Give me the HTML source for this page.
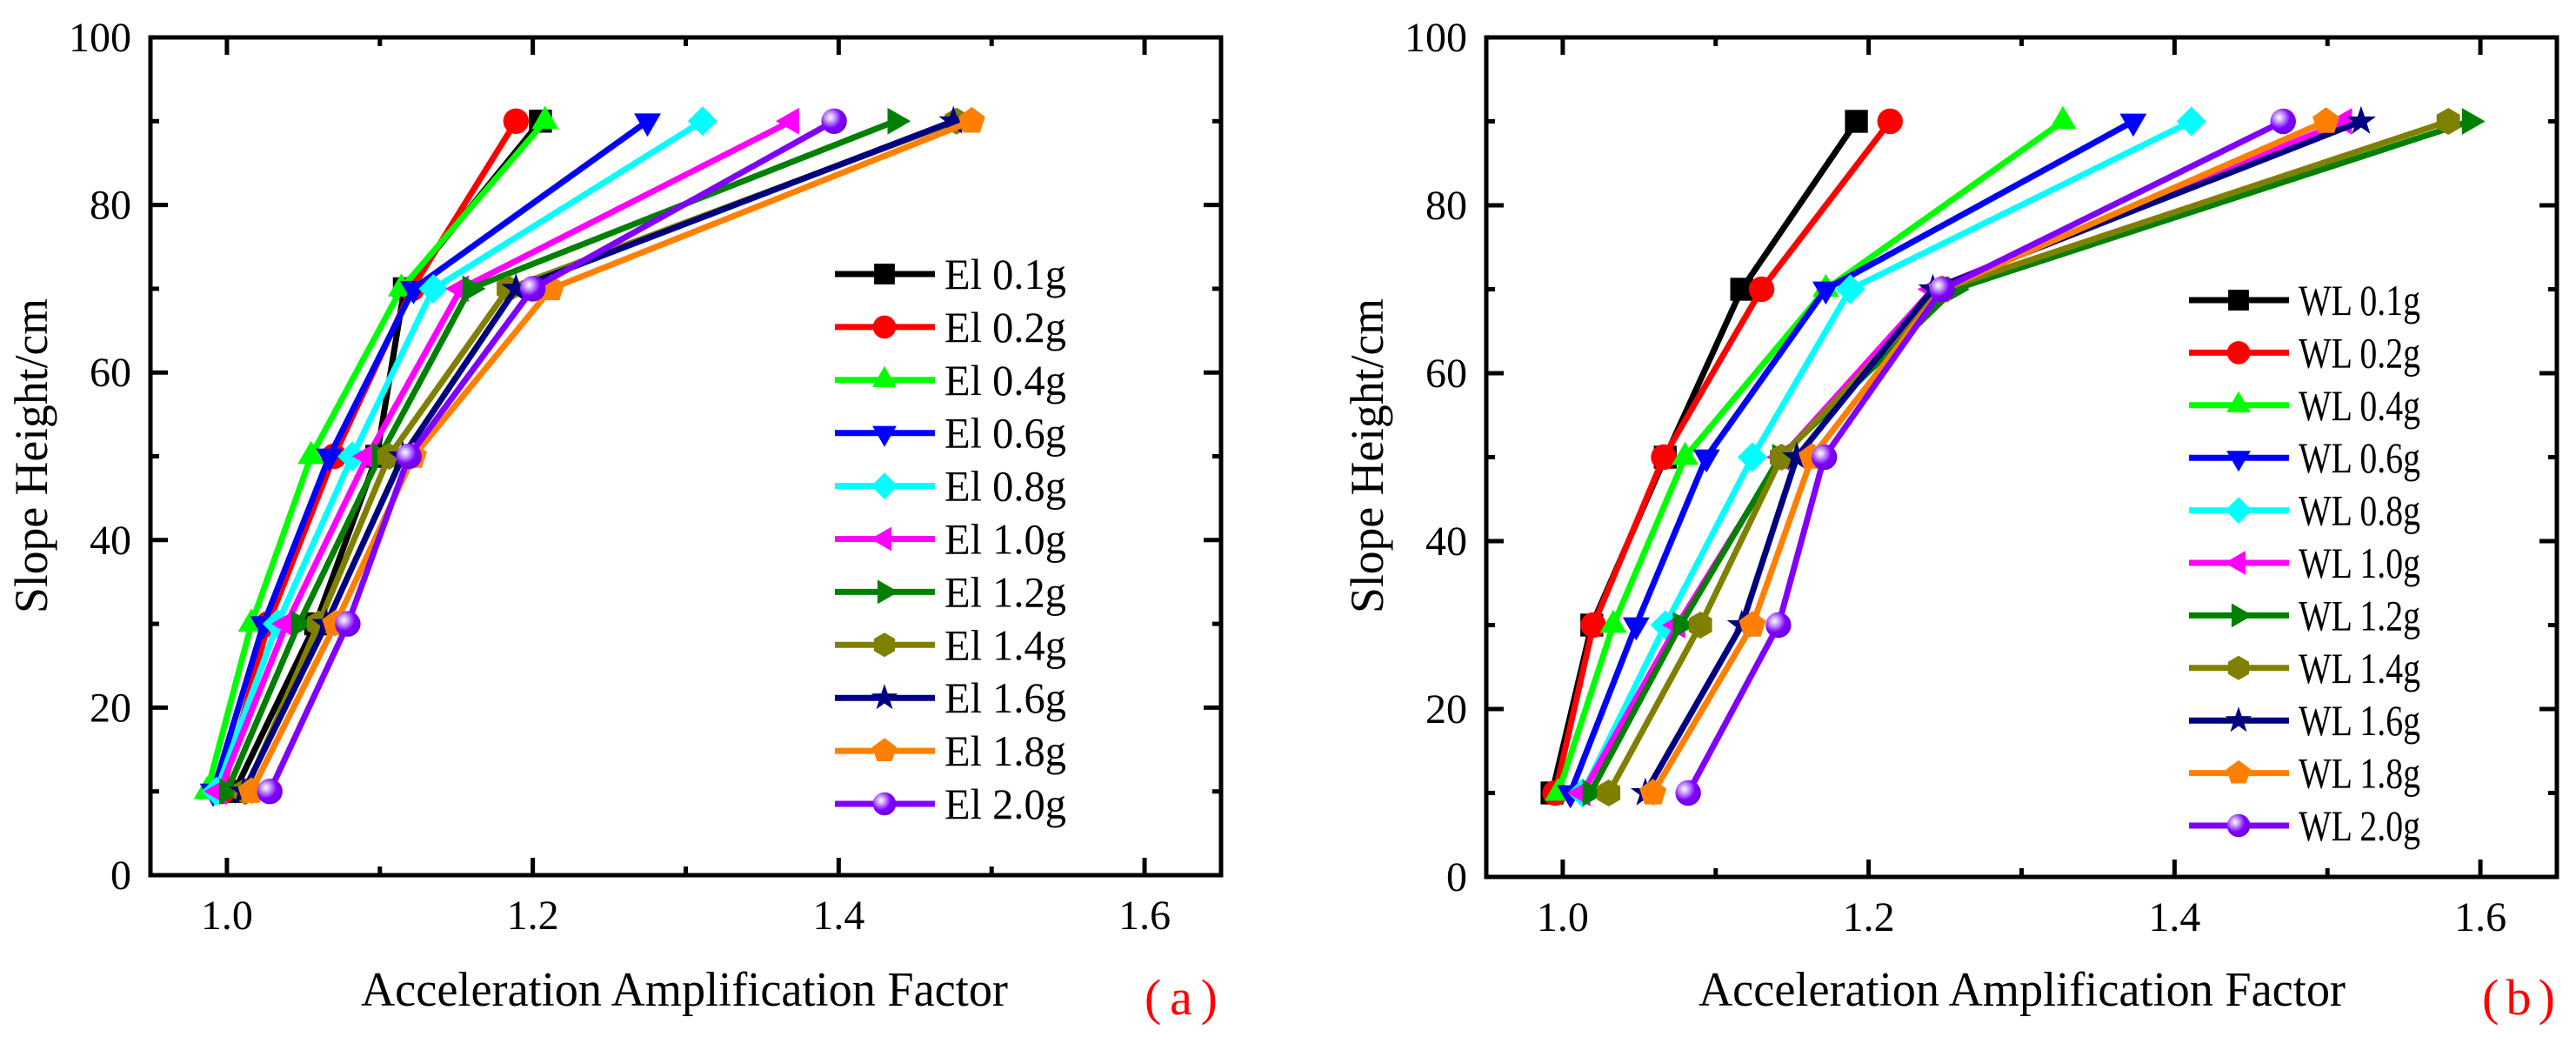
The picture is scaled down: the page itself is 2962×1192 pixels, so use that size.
<!DOCTYPE html>
<html><head><meta charset="utf-8"><style>
html,body{margin:0;padding:0;background:#fff;}
svg{display:block;}
svg text{font-family:"Liberation Serif","Times New Roman",serif;}
</style></head><body>
<svg id="fig" width="2962" height="1192" viewBox="0 0 2962 1192" xmlns="http://www.w3.org/2000/svg" font-family="'Liberation Serif', 'Times New Roman', serif">
<defs>
<radialGradient id="sph" cx="0.35" cy="0.35" r="0.7">
<stop offset="0" stop-color="#ffffff"/><stop offset="0.25" stop-color="#c9a0ff"/><stop offset="0.6" stop-color="#8000ff"/><stop offset="1" stop-color="#6a00d8"/>
</radialGradient>
</defs>
</svg>
<script>
const yLevels = [10, 30, 50, 70, 90];
const xTicks = [1.0, 1.2, 1.4, 1.6];
const xTickLabels = ["1.0", "1.2", "1.4", "1.6"];
const yTicks = [0, 20, 40, 60, 80, 100];
const yTickLabels = ["0", "20", "40", "60", "80", "100"];
const seriesColors = ["#000000","#ff0000","#00ff00","#0000ff","#00ffff","#ff00ff","#008000","#808000","#000080","#ff8000","#8000ff"];
const seriesMarkers = ["square","circle","up","down","diamond","left","right","hexagon","star","pentagon","sphere"];
const seriesAccel = ["0.1g","0.2g","0.4g","0.6g","0.8g","1.0g","1.2g","1.4g","1.6g","1.8g","2.0g"];
const elValues = [
 [1.005,1.058,1.098,1.116,1.205],
 [0.997,1.027,1.070,1.121,1.189],
 [0.987,1.016,1.055,1.114,1.208],
 [0.991,1.024,1.067,1.122,1.275],
 [0.993,1.033,1.082,1.135,1.311],
 [0.995,1.039,1.092,1.153,1.369],
 [1.000,1.047,1.100,1.159,1.437],
 [1.012,1.060,1.106,1.184,1.477],
 [1.011,1.065,1.115,1.189,1.475],
 [1.016,1.071,1.122,1.212,1.487],
 [1.028,1.079,1.119,1.200,1.397]
];
const wlValues = [
 [0.993,1.019,1.067,1.117,1.192],
 [0.995,1.020,1.066,1.130,1.214],
 [0.997,1.033,1.080,1.172,1.327],
 [1.005,1.048,1.094,1.172,1.373],
 [1.013,1.067,1.124,1.188,1.411],
 [1.013,1.075,1.143,1.242,1.511],
 [1.018,1.077,1.142,1.256,1.593],
 [1.030,1.090,1.143,1.248,1.579],
 [1.054,1.117,1.153,1.242,1.522],
 [1.059,1.124,1.163,1.248,1.499],
 [1.082,1.141,1.171,1.248,1.471]
];
const NS = "http://www.w3.org/2000/svg";
const FONT = "Liberation Serif, Times New Roman, serif";
const svg = document.getElementById("fig");
function mk(tag, attrs, parent){const e=document.createElementNS(NS,tag);for(const k in attrs)e.setAttribute(k,attrs[k]);if(tag==="text")e.setAttribute("font-family",FONT);(parent||svg).appendChild(e);return e;}

function markerPath(type, cx, cy, s){
  const r=s/2;
  function poly(n,rad,rot){let p=[];for(let i=0;i<n;i++){const a=rot+i*2*Math.PI/n;p.push((cx+rad*Math.cos(a)).toFixed(1)+","+(cy+rad*Math.sin(a)).toFixed(1));}return p.join(" ");}
  switch(type){
    case "square": return ["rect",{x:cx-r*0.85,y:cy-r*0.85,width:r*1.7,height:r*1.7}];
    case "circle": return ["circle",{cx:cx,cy:cy,r:r*0.95}];
    case "up": return ["polygon",{points:poly(3,r*1.15,-Math.PI/2)}];
    case "down": return ["polygon",{points:poly(3,r*1.15,Math.PI/2)}];
    case "left": return ["polygon",{points:poly(3,r*1.15,Math.PI)}];
    case "right": return ["polygon",{points:poly(3,r*1.15,0)}];
    case "diamond": return ["polygon",{points:poly(4,r*1.1,0)}];
    case "hexagon": return ["polygon",{points:poly(6,r*1.0,-Math.PI/2)}];
    case "pentagon": return ["polygon",{points:poly(5,r*1.05,-Math.PI/2)}];
    case "star": {let p=[];for(let i=0;i<10;i++){const a=-Math.PI/2+i*Math.PI/5;const rr=i%2?r*0.45:r*1.15;p.push((cx+rr*Math.cos(a)).toFixed(1)+","+(cy+rr*Math.sin(a)).toFixed(1));}return ["polygon",{points:p.join(" ")}];}
    case "sphere": return ["circle",{cx:cx,cy:cy,r:r*0.95,sphere:1}];
  }
}
function drawMarker(g,type,color,cx,cy,s){
  const [tag,at]=markerPath(type,cx,cy,s);
  if(at.sphere){delete at.sphere;at.fill="url(#sph)";}else at.fill=color;
  const m=mk(tag,at,g);
  
  
  return m;
}

function panel(cfg){
  const {left,right,top,bottom,prefix,values,legX,legY0,legStep,letter,letterX,titleCX,ylabX,ytitleX,id}=cfg;
  const xmin=0.95,xmax=1.65,ymin=0,ymax=100;
  const X=v=>left+(v-xmin)/(xmax-xmin)*(right-left);
  const Y=v=>bottom-(v-ymin)/(ymax-ymin)*(bottom-top);
  const g=mk("g",{});
  
  
  const tg=mk("g",{stroke:"#000","stroke-width":5},g);
  
  
  for(let v=1.0; v<=1.601; v+=0.1){
    const major=Math.round(v*10)%2===0;
    const L=major?20:10;
    mk("line",{x1:X(v),x2:X(v),y1:bottom,y2:bottom-L},tg);
    mk("line",{x1:X(v),x2:X(v),y1:top,y2:top+L},tg);
  }
  for(let v=0; v<=100; v+=10){
    const L=(v%20===0)?20:10;
    mk("line",{x1:left,x2:left+L,y1:Y(v),y2:Y(v)},tg);
    mk("line",{x1:right,x2:right-L,y1:Y(v),y2:Y(v)},tg);
  }
  const frame=mk("rect",{x:left,y:top,width:right-left,height:bottom-top,fill:"none",stroke:"#000","stroke-width":5},g);
  
  
  xTicks.forEach((v,i)=>{
    const t=mk("text",{x:X(v),y:bottom+62,"font-size":48,"text-anchor":"middle",fill:"#000"},g);
    t.textContent=xTickLabels[i];
    
    
  });
  yTicks.forEach((v,i)=>{
    const t=mk("text",{x:ylabX,y:Y(v)+16,"font-size":48,"text-anchor":"end",fill:"#000"},g);
    t.textContent=yTickLabels[i];
    
    
  });
  values.forEach((vals,si)=>{
    const sg=mk("g",{},g);
    
    
    const pts=vals.map((v,k)=>X(v).toFixed(1)+","+Y(yLevels[k]).toFixed(1)).join(" ");
    const pl=mk("polyline",{points:pts,fill:"none",stroke:seriesColors[si],"stroke-width":7,"stroke-linejoin":"round"},sg);
    
    
    vals.forEach((v,k)=>drawMarker(sg,seriesMarkers[si],seriesColors[si],X(v),Y(yLevels[k]),31));
  });
  const lg=mk("g",{},g);
  
  
  seriesAccel.forEach((a,si)=>{
    const y=legY0+si*legStep;
    const eg=mk("g",{},lg);
    
    
    mk("line",{x1:legX,x2:legX+115,y1:y,y2:y,stroke:seriesColors[si],"stroke-width":7},eg);
    drawMarker(eg,seriesMarkers[si],seriesColors[si],legX+57,y,28);
    const t=mk("text",{x:legX+126,y:y+17,"font-size":50,fill:"#000",textLength:140,lengthAdjust:"spacingAndGlyphs"},eg);
    t.textContent=prefix+" "+a;
  });
  const xt=mk("text",{x:titleCX,y:1156,"font-size":56,"text-anchor":"middle",textLength:744,lengthAdjust:"spacingAndGlyphs",fill:"#000"},g);
  xt.textContent="Acceleration Amplification Factor";
  
  
  const yt=mk("text",{x:0,y:0,"font-size":54,"text-anchor":"middle",textLength:362,lengthAdjust:"spacingAndGlyphs",fill:"#000",transform:`translate(${ytitleX},524) rotate(-90)`},g);
  yt.textContent="Slope Height/cm";
  
  
  const lt=mk("text",{x:letterX,y:1166,"font-size":58,fill:"#ff0000",textLength:84,lengthAdjust:"spacing"},g);
  lt.textContent="("+letter+")";
  
  
}
panel({id:"a",left:173,right:1404,top:43,bottom:1006,prefix:"El",values:elValues,legX:960,legY0:315,legStep:60.9,letter:"a",letterX:1316,titleCX:787,ylabX:151,ytitleX:54});
panel({id:"b",left:1709,right:2940,top:43,bottom:1008,prefix:"WL",values:wlValues,legX:2517,legY0:345,legStep:60.4,letter:"b",letterX:2854,titleCX:2325,ylabX:1687,ytitleX:1590});
</script>
</body></html>
